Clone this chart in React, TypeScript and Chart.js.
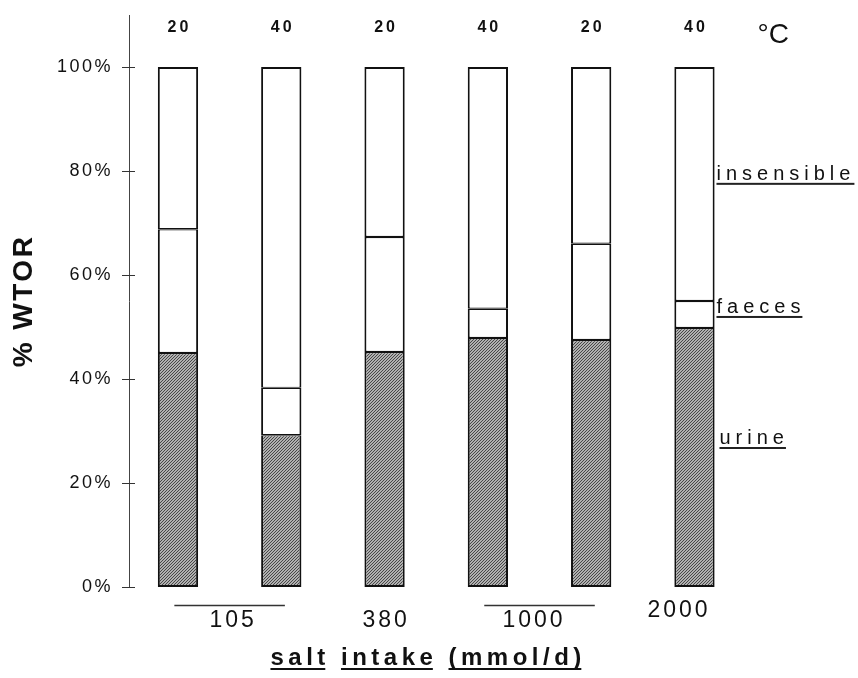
import React, { useEffect, useRef } from 'react';
import { Chart, registerables } from 'chart.js';

Chart.register(...registerables);

// ---- data ----
const categories = ['105 mmol/d, 20 °C', '105 mmol/d, 40 °C', '380 mmol/d, 20 °C', '1000 mmol/d, 40 °C', '1000 mmol/d, 20 °C', '2000 mmol/d, 40 °C'];
const temperatures = ['20', '40', '20', '40', '20', '40'];
const urine = [45.0, 29.2, 45.2, 47.9, 47.5, 49.8];
const faeces = [23.8, 9.1, 22.1, 5.6, 18.5, 5.2];
const insensible = [31.2, 61.7, 32.7, 46.5, 34.0, 45.0];
const yTicks = [0, 20, 40, 60, 80, 100];
const saltLabels = ['105', '380', '1000', '2000'];
const saltFirstBar = [0, 2, 3, 5];
const saltLastBar = [1, 2, 4, 5];
const seriesNames = ['urine', 'faeces', 'insensible'];
const seriesLabelLevel = [27.5, 52.7, 78.3];

// ---- styling constants ----
const FONT = '"Liberation Sans", Arial, Helvetica, sans-serif';
const INK = '#111';
const saltNudgeX = [2, 0, -7, -17];
const saltTextDy = [34, 34, 34, 24];

function spacedText(ctx: any, text: string, x: number, y: number, font: string, ls: number, align: string, baseline: string) {
  ctx.save();
  ctx.font = font;
  ctx.letterSpacing = ls + 'px';
  ctx.fillStyle = INK;
  ctx.textAlign = 'left';
  ctx.textBaseline = baseline;
  const w = ctx.measureText(text).width - ls;
  const x0 = align === 'center' ? x - w / 2 : x;
  ctx.fillText(text, x0, y);
  ctx.restore();
  return { x0, w };
}

const annotate = {
  id: 'annotate',
  beforeDraw(chart: any) {
    chart.ctx.letterSpacing = '2.5px';
  },
  beforeDatasetsDraw(chart: any) {
    chart.ctx.letterSpacing = '0px';
  },
  afterDraw(chart: any) {
    const ctx = chart.ctx;
    const a = chart.chartArea;
    const xs = chart.scales.x;
    const ys = chart.scales.y;
    ctx.letterSpacing = '0px';

    // crossing tick marks on the y axis
    ctx.save();
    ctx.strokeStyle = '#333';
    ctx.lineWidth = 1;
    for (const v of yTicks) {
      const py = Math.round(ys.getPixelForValue(v)) + 0.5;
      ctx.beginPath();
      ctx.moveTo(a.left - 7, py);
      ctx.lineTo(a.left + 6, py);
      ctx.stroke();
    }
    ctx.restore();

    // temperatures above bars
    temperatures.forEach((t, i) => {
      spacedText(ctx, t, xs.getPixelForValue(i), ys.getPixelForValue(107.5), `bold 16px ${FONT}`, 3, 'center', 'middle');
    });
    // unit
    spacedText(ctx, '°C', xs.getPixelForValue(5) + 63, a.top + 28, `28px ${FONT}`, 0, 'left', 'alphabetic');

    // series labels at the right with underline
    const lx = xs.getPixelForValue(5) + 22;
    seriesNames.forEach((n, i) => {
      const by = ys.getPixelForValue(seriesLabelLevel[i]);
      const r = spacedText(ctx, n, lx + (i === 0 ? 3 : 0), by, `20px ${FONT}`, 5, 'left', 'alphabetic');
      ctx.save();
      ctx.fillStyle = '#222';
      ctx.fillRect(r.x0, by + 3, r.w + (i === 2 ? 4 : 2), 2);
      ctx.restore();
    });

    // salt intake labels below
    const spacing = xs.getPixelForValue(1) - xs.getPixelForValue(0);
    saltLabels.forEach((s, i) => {
      const c = (xs.getPixelForValue(saltFirstBar[i]) + xs.getPixelForValue(saltLastBar[i])) / 2;
      if (saltLastBar[i] > saltFirstBar[i]) {
        const half = 0.535 * spacing;
        ctx.save();
        ctx.strokeStyle = '#333';
        ctx.lineWidth = 1.3;
        ctx.beginPath();
        ctx.moveTo(c - half, a.bottom + 18.5);
        ctx.lineTo(c + half, a.bottom + 18.5);
        ctx.stroke();
        ctx.restore();
      }
      spacedText(ctx, s, c + saltNudgeX[i], a.bottom + saltTextDy[i], `23px ${FONT}`, 3, 'center', 'middle');
    });

    // x axis title, underlined word by word
    const title = 'salt intake (mmol/d)';
    const ls = 4.5;
    const by = a.bottom + 78;
    const cx = xs.getPixelForValue(2.4);
    ctx.save();
    ctx.font = `bold 24px ${FONT}`;
    ctx.letterSpacing = ls + 'px';
    ctx.fillStyle = INK;
    ctx.textAlign = 'left';
    ctx.textBaseline = 'alphabetic';
    const total = ctx.measureText(title).width - ls;
    const x0 = cx - total / 2;
    ctx.fillText(title, x0, by);
    let idx = 0;
    for (const word of title.split(' ')) {
      const start = title.indexOf(word, idx);
      const pre = ctx.measureText(title.slice(0, start)).width;
      const ww = ctx.measureText(word).width - ls;
      ctx.fillRect(x0 + pre, by + 3, ww, 2);
      idx = start + word.length;
    }
    ctx.restore();
  },
};

export default function App() {
  const ref = useRef<HTMLCanvasElement | null>(null);

  useEffect(() => {
    document.body.style.margin = '0';
    document.body.style.overflow = 'hidden';
    const canvas = ref.current;
    if (!canvas) return;
    const ctx = canvas.getContext('2d') as CanvasRenderingContext2D;

    const tile = document.createElement('canvas');
    tile.width = 3;
    tile.height = 3;
    const t = tile.getContext('2d') as CanvasRenderingContext2D;
    t.fillStyle = '#b0b0b0';
    t.fillRect(0, 0, 3, 3);
    t.fillStyle = '#474747';
    for (let k = 0; k < 3; k++) t.fillRect(k, 2 - k, 1, 1);
    const hatch = ctx.createPattern(tile, 'repeat');

    const pts = (arr: number[]) => arr.map((v, i) => ({ x: i, y: v }));
    const common = {
      borderColor: INK,
      borderSkipped: false,
      stack: 'water',
      barPercentage: 0.39,
      categoryPercentage: 1,
    };

    const chart = new Chart(ctx, {
      type: 'bar',
      data: {
        labels: categories,
        datasets: [
          { label: 'urine', data: pts(urine), backgroundColor: hatch, borderWidth: { top: 1.2, bottom: 2, left: 2, right: 2 }, ...common },
          { label: 'faeces', data: pts(faeces), backgroundColor: '#ffffff', borderWidth: { top: 1.2, bottom: 1.2, left: 2, right: 2 }, ...common },
          { label: 'insensible', data: pts(insensible), backgroundColor: '#ffffff', borderWidth: { top: 2, bottom: 1.2, left: 2, right: 2 }, ...common },
        ] as any,
      },
      options: {
        animation: false,
        responsive: false,
        devicePixelRatio: 1,
        layout: { padding: { top: 15, bottom: 91, left: 0, right: 0 } },
        plugins: { legend: { display: false }, tooltip: { enabled: false } },
        scales: {
          x: {
            type: 'linear',
            stacked: true,
            offset: false,
            display: false,
            min: -0.474,
            max: 6.583,
            afterBuildTicks: (s: any) => { s.ticks = categories.map((_, i) => ({ value: i })); },
          },
          y: {
            stacked: true,
            min: 0,
            max: 110,
            afterFit: (s: any) => { s.width = 129; s.paddingTop = 0; s.paddingBottom = 0; },
            afterBuildTicks: (s: any) => { s.ticks = yTicks.map((v) => ({ value: v })); },
            grid: { display: false, drawTicks: false },
            border: { display: true, color: '#444', width: 1, dash: [9, 2, 1, 2] },
            ticks: {
              padding: 16,
              color: INK,
              font: { family: FONT, size: 18 },
              callback: (v: any) => v + '%',
            },
            title: {
              display: true,
              text: '% WTOR',
              color: INK,
              font: { family: FONT, size: 28, weight: 'bold' },
              padding: { top: 7, bottom: 0 },
            },
          },
        },
      } as any,
      plugins: [annotate],
    });

    return () => chart.destroy();
  }, []);

  return <canvas ref={ref} width={858} height={678} style={{ display: 'block' }} />;
}
